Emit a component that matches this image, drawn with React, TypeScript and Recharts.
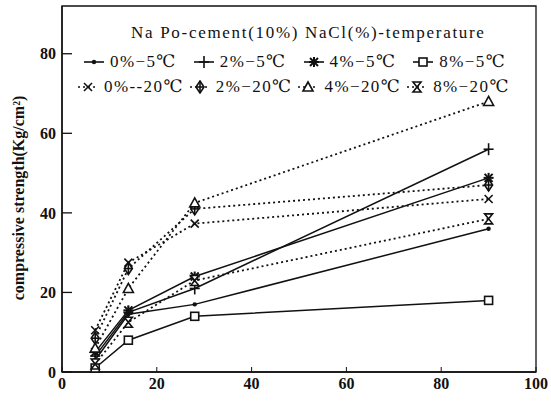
import { LineChart, Line, XAxis, YAxis, Legend, ReferenceArea } from 'recharts'

// curing age (days) and compressive strength per NaCl dose / temperature
const AGES = [7, 14, 28, 90]
const NACL0_M5 = [3, 14.5, 17, 36]
const NACL2_M5 = [4, 15, 21, 56]
const NACL4_M5 = [5, 15.5, 24, 48.8]
const NACL8_M5 = [1, 8, 14, 18]
const NACL0_M20 = [10.5, 27.5, 37.3, 43.5]
const NACL2_M20 = [8.5, 26, 41, 47]
const NACL4_M20 = [6, 21, 42.5, 68]
const NACL8_M20 = [2, 12.5, 23, 38.5]

const X_TICKS = [0, 20, 40, 60, 80, 100]
const Y_TICKS = [0, 20, 40, 60, 80]

const TITLE = 'Na Po-cement(10%) NaCl(%)-temperature'
const Y_LABEL = 'compressive strength(Kg/cm²)'

const FONT = '"Liberation Serif", "DejaVu Serif", serif'
const INK = '#111'

type Marker = 'dot' | 'plus' | 'star' | 'square' | 'cross' | 'diamond' | 'triangle' | 'hourglass'

const SERIES: { key: string; name: string; values: number[]; dashed: boolean; marker: Marker }[] = [
  { key: 'a', name: '0%−5℃', values: NACL0_M5, dashed: false, marker: 'dot' },
  { key: 'b', name: '2%−5℃', values: NACL2_M5, dashed: false, marker: 'plus' },
  { key: 'c', name: '4%−5℃', values: NACL4_M5, dashed: false, marker: 'star' },
  { key: 'd', name: '8%−5℃', values: NACL8_M5, dashed: false, marker: 'square' },
  { key: 'e', name: '0%--20℃', values: NACL0_M20, dashed: true, marker: 'cross' },
  { key: 'f', name: '2%−20℃', values: NACL2_M20, dashed: true, marker: 'diamond' },
  { key: 'g', name: '4%−20℃', values: NACL4_M20, dashed: true, marker: 'triangle' },
  { key: 'h', name: '8%−20℃', values: NACL8_M20, dashed: true, marker: 'hourglass' },
]

const data = AGES.map((age, i) => {
  const row: Record<string, number> = { age }
  SERIES.forEach((s) => {
    row[s.key] = s.values[i]
  })
  return row
})

function MarkerShape({ type, x, y }: { type: Marker; x: number; y: number }) {
  const sw = 1.6
  switch (type) {
    case 'dot':
      return <circle cx={x} cy={y} r={2.2} fill={INK} />
    case 'plus':
      return (
        <g stroke={INK} strokeWidth={sw}>
          <line x1={x - 5} y1={y} x2={x + 5} y2={y} />
          <line x1={x} y1={y - 6} x2={x} y2={y + 6} />
        </g>
      )
    case 'star':
      return (
        <g stroke={INK} strokeWidth={2}>
          <line x1={x - 5} y1={y} x2={x + 5} y2={y} />
          <line x1={x} y1={y - 5} x2={x} y2={y + 5} />
          <line x1={x - 4} y1={y - 4} x2={x + 4} y2={y + 4} />
          <line x1={x - 4} y1={y + 4} x2={x + 4} y2={y - 4} />
        </g>
      )
    case 'square':
      return <rect x={x - 4} y={y - 4} width={8} height={8} fill="#fff" stroke={INK} strokeWidth={sw} />
    case 'cross':
      return (
        <g stroke={INK} strokeWidth={sw}>
          <line x1={x - 4} y1={y - 4} x2={x + 4} y2={y + 4} />
          <line x1={x - 4} y1={y + 4} x2={x + 4} y2={y - 4} />
        </g>
      )
    case 'diamond':
      return (
        <g stroke={INK} strokeWidth={sw}>
          <path d={`M${x},${y - 6}L${x + 4},${y}L${x},${y + 6}L${x - 4},${y}Z`} fill="#fff" />
          <line x1={x - 4} y1={y} x2={x + 4} y2={y} />
          <line x1={x} y1={y - 6} x2={x} y2={y + 6} />
        </g>
      )
    case 'triangle':
      return <path d={`M${x},${y - 5}L${x + 5},${y + 4}L${x - 5},${y + 4}Z`} fill="#fff" stroke={INK} strokeWidth={sw} />
    case 'hourglass':
      return (
        <path
          d={`M${x - 4},${y - 5}H${x + 4}L${x - 4},${y + 5}H${x + 4}Z`}
          fill="#fff"
          stroke={INK}
          strokeWidth={sw}
        />
      )
  }
}

function makeDot(type: Marker) {
  return (props: { cx?: number; cy?: number; index?: number }) => {
    if (props.cx == null || props.cy == null) return <g key={props.index} />
    return (
      <g key={props.index}>
        <MarkerShape type={type} x={props.cx} y={props.cy} />
      </g>
    )
  }
}

function LegendBox() {
  const entry = (gap: number) => (s: (typeof SERIES)[number]) => (
    <span key={s.key} style={{ display: 'inline-flex', alignItems: 'center', marginRight: gap }}>
      <svg width={22} height={14} style={{ marginRight: 5 }}>
        <line
          x1={1}
          y1={7}
          x2={21}
          y2={7}
          stroke={INK}
          strokeWidth={1.6}
          strokeDasharray={s.dashed ? '2 3' : undefined}
        />
        <MarkerShape type={s.marker} x={11} y={7} />
      </svg>
      {s.name}
    </span>
  )
  return (
    <div style={{ fontFamily: FONT, fontSize: 17, letterSpacing: 1.4, color: INK, lineHeight: '22px' }}>
      <div style={{ paddingLeft: 57, marginBottom: 7, letterSpacing: 1.7, whiteSpace: 'nowrap' }}>{TITLE}</div>
      <div style={{ display: 'flex', marginLeft: 9, whiteSpace: 'nowrap' }}>{SERIES.slice(0, 4).map(entry(16))}</div>
      <div style={{ display: 'flex', marginLeft: 3, marginTop: 3, whiteSpace: 'nowrap' }}>
        {SERIES.slice(4).map(entry(5))}
      </div>
    </div>
  )
}

function YTitle(props: { viewBox?: { x: number; y: number; width: number; height: number } }) {
  const vb = props.viewBox
  if (!vb) return null
  const cx = vb.x + 18
  const cy = vb.y + vb.height / 2 + 9
  return (
    <text
      x={cx}
      y={cy}
      transform={`rotate(-90, ${cx}, ${cy})`}
      textAnchor="middle"
      dominantBaseline="central"
      fontFamily={FONT}
      fontWeight="bold"
      fontSize={16}
      fill={INK}
    >
      {Y_LABEL}
    </text>
  )
}

export default function App() {
  const tickStyle = { fontFamily: FONT, fontSize: 16, fontWeight: 'bold', fill: INK }
  return (
    <div style={{ position: 'absolute', left: 0, top: 0, background: '#fff' }}>
      <LineChart width={551} height={404} data={data} margin={{ top: 6, right: 15, bottom: 0, left: 0 }}>
        <XAxis
          dataKey="age"
          type="number"
          domain={[0, 100]}
          ticks={X_TICKS}
          height={32}
          tickSize={-5}
          tickMargin={11}
          axisLine={{ stroke: INK, strokeWidth: 1.4 }}
          tickLine={{ stroke: INK }}
          tick={tickStyle}
        />
        <YAxis
          type="number"
          domain={[0, 92]}
          ticks={Y_TICKS}
          width={62}
          tickSize={-10}
          tickMargin={16}
          axisLine={{ stroke: INK, strokeWidth: 1.4 }}
          tickLine={{ stroke: INK, strokeWidth: 1.3 }}
          tick={tickStyle}
          label={{ content: YTitle }}
        />
        <ReferenceArea x1={0} x2={100} y1={0} y2={92} fill="none" stroke={INK} strokeWidth={1.3} />
        {SERIES.map((s) => (
          <Line
            key={s.key}
            dataKey={s.key}
            name={s.name}
            stroke={INK}
            strokeWidth={s.dashed ? 1.8 : 1.5}
            strokeDasharray={s.dashed ? '2 3' : undefined}
            dot={makeDot(s.marker)}
            activeDot={false}
            isAnimationActive={false}
          />
        ))}
        <Legend
          layout="horizontal"
          verticalAlign="middle"
          content={<LegendBox />}
          wrapperStyle={{ position: 'absolute', left: 74, top: 22, width: 470 }}
        />
      </LineChart>
    </div>
  )
}
